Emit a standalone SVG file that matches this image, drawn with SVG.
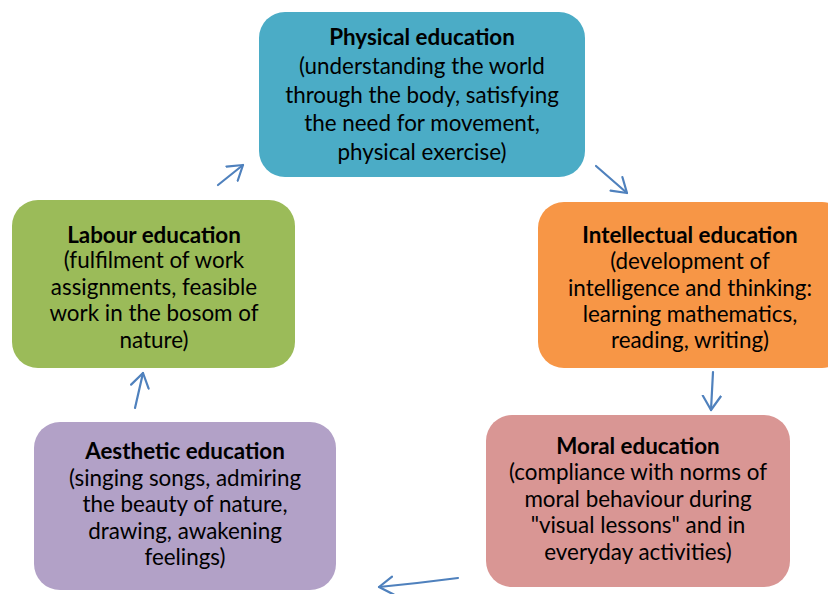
<svg xmlns="http://www.w3.org/2000/svg" width="828" height="594" viewBox="0 0 828 594">
<style>
text{font-family:Lato,"Open Sans","Liberation Sans",sans-serif;font-size:22.4px;fill:#000;text-anchor:middle}
.t{font-weight:bold}
.c{fill:none;stroke:#4F81BD;stroke-width:2.2;stroke-linecap:round}
</style>
<defs>
<marker id="ah" markerUnits="userSpaceOnUse" markerWidth="30" markerHeight="30" refX="15" refY="15" orient="auto">
<path d="M1,6 L15,15 L1,24" fill="none" stroke="#4F81BD" stroke-width="2.2" stroke-linecap="round" stroke-linejoin="round"/>
</marker>
</defs>
<rect width="828" height="594" fill="#fff"/>
<g id="physical">
<rect x="259" y="12" width="326" height="165" rx="26" fill="#4BACC6"/>
<text x="422" y="45" class="t">Physical education</text>
<text x="422" y="74">(understanding the world</text>
<text x="422" y="103">through the body, satisfying</text>
<text x="422" y="131">the need for movement,</text>
<text x="422" y="160">physical exercise)</text>
</g>
<g id="intellectual">
<rect x="538" y="202" width="310" height="166" rx="26" fill="#F79646"/>
<text x="690" y="243" class="t">Intellectual education</text>
<text x="690" y="269">(development of</text>
<text x="690" y="296">intelligence and thinking:</text>
<text x="690" y="322">learning mathematics,</text>
<text x="690" y="348">reading, writing)</text>
</g>
<g id="moral">
<rect x="486" y="415" width="304" height="172" rx="26" fill="#D99694"/>
<text x="638" y="454" class="t">Moral education</text>
<text x="638" y="480">(compliance with norms of</text>
<text x="638" y="507">moral behaviour during</text>
<text x="638" y="533">"visual lessons" and in</text>
<text x="638" y="560">everyday activities)</text>
</g>
<g id="aesthetic">
<rect x="34" y="422" width="302" height="168" rx="26" fill="#B2A1C7"/>
<text x="185" y="459" class="t">Aesthetic education</text>
<text x="185" y="486">(singing songs, admiring</text>
<text x="185" y="512">the beauty of nature,</text>
<text x="185" y="539">drawing, awakening</text>
<text x="185" y="565">feelings)</text>
</g>
<g id="labour">
<rect x="12" y="200" width="283" height="168" rx="26" fill="#9BBB59"/>
<text x="154" y="243" class="t">Labour education</text>
<text x="154" y="268">(fulfilment of work</text>
<text x="154" y="295">assignments, feasible</text>
<text x="154" y="321">work in the bosom of</text>
<text x="154" y="348">nature)</text>
</g>
<g id="connectors">
<line class="c" x1="218" y1="185" x2="243" y2="165" marker-end="url(#ah)"/>
<line class="c" x1="596" y1="166" x2="627" y2="193" marker-end="url(#ah)"/>
<line class="c" x1="713" y1="372" x2="711" y2="410" marker-end="url(#ah)"/>
<path class="c" d="M458,578 Q420,583 379,587" marker-end="url(#ah)"/>
<line class="c" x1="135" y1="408" x2="143" y2="373" marker-end="url(#ah)"/>
</g>
</svg>
